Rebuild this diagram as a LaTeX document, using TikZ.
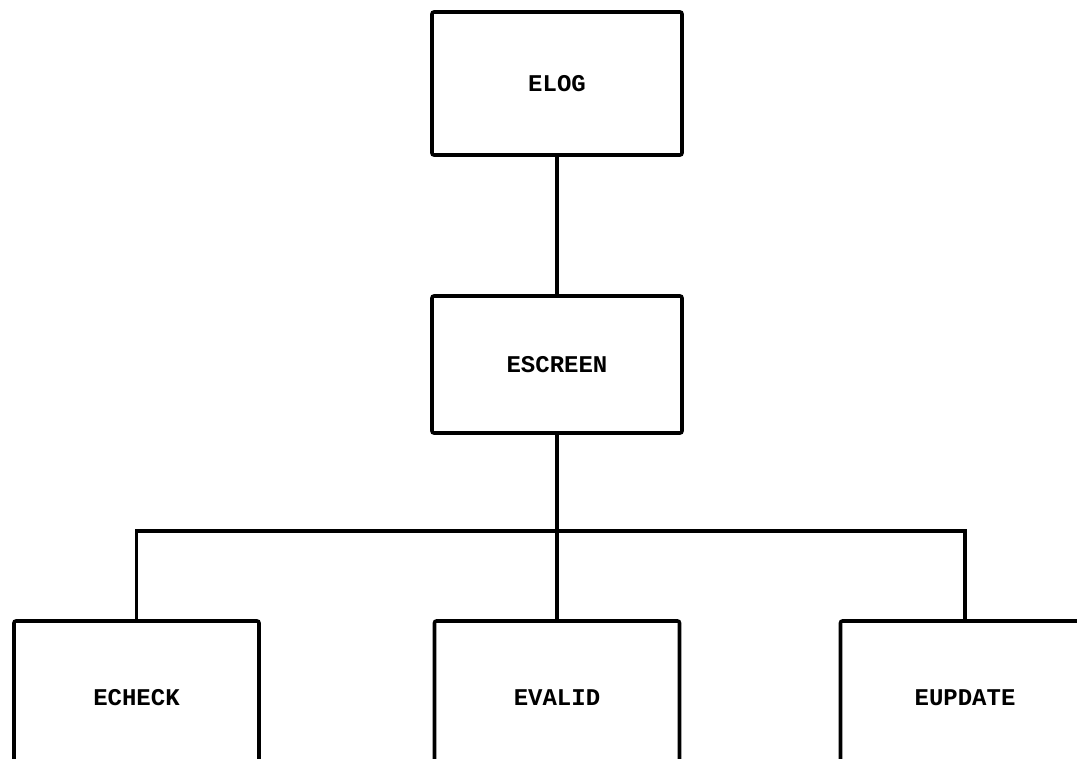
\documentclass[tikz,border=0pt]{standalone}
\usepackage{fontspec}
\newfontfamily\boxfont{Liberation Mono}
\begin{document}
\begin{tikzpicture}[x=1pt,y=-1pt,
  line width=3.6pt,
  modbox/.style={draw, rectangle, rounded corners=2pt, inner sep=0pt, outer sep=0pt,
    font=\boxfont\bfseries\fontsize{24}{27}\selectfont},
  link/.style={draw, line width=3.6pt, line cap=rect}]
\useasboundingbox (0,0) rectangle (1077,759);
\clip (0,0) rectangle (1077,759);
\node[modbox, minimum width=250pt, minimum height=143pt] (elog) at (557,83.5) {ELOG};
\node[modbox, minimum width=250pt, minimum height=137pt] (escreen) at (557,364.5) {ESCREEN};
\node[modbox, minimum width=245pt, minimum height=154pt] (echeck) at (136.5,698) {ECHECK};
\node[modbox, minimum width=245pt, minimum height=154pt] (evalid) at (557,698) {EVALID};
\node[modbox, minimum width=249pt, minimum height=154pt] (eupdate) at (965,698) {EUPDATE};
\coordinate (bus) at (557,531);
\draw[link] (elog.south) -- (escreen.north);
\draw[link] (escreen.south) -- (bus) -- (evalid.north);
\draw[link] (echeck.north) |- (bus) -| (eupdate.north);
\end{tikzpicture}
\end{document}
